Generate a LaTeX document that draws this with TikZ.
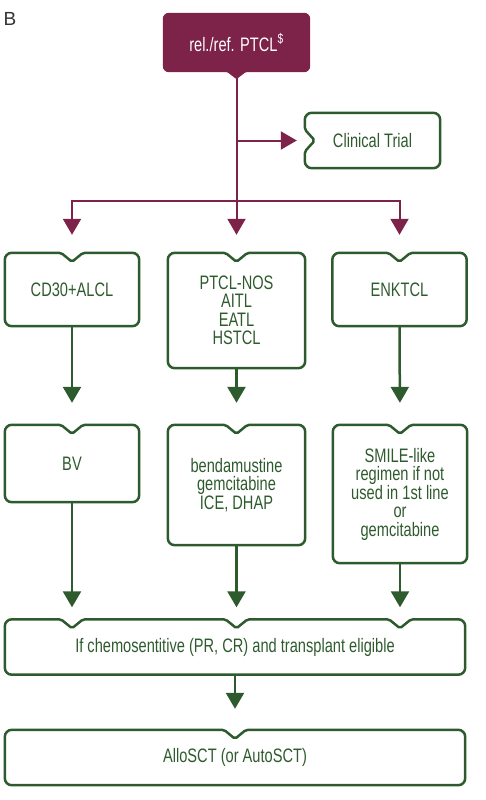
\documentclass[tikz,border=0pt]{standalone}
\usepackage{fontspec}
\setmainfont{Liberation Sans}[FakeStretch=0.75]
\newfontfamily\panelfont{Liberation Sans}
\usetikzlibrary{arrows.meta,backgrounds}
\definecolor{wine}{HTML}{7D2248}
\definecolor{leaf}{HTML}{2E5B2E}
\newcommand{\notchbox}[2]{%
  \draw[gline] (#1.west) [rounded corners=7] -- (#1.north west)
    \foreach \q in {#2} {[rounded corners=2] -- ([xshift=-11]\q) -- ([yshift=-9]\q) -- ([xshift=11]\q)}
    [rounded corners=7] -- (#1.north east) -- (#1.south east) -- (#1.south west) -- cycle;}

\begin{document}
\begin{tikzpicture}[x=1pt, y=-1pt,
  box/.style={inner sep=0pt, align=center, text=leaf, font=\fontsize{19.5}{18.5}\selectfont},
  gline/.style={draw=leaf, line width=2.5pt},
  garrow/.style={leaf, line width=2.5pt, -{Triangle[width=18pt,length=16pt]}},
  mline/.style={wine, line width=2pt},
  marrow/.style={wine, line width=2pt, -{Triangle[width=18pt,length=16pt]}}]
	\useasboundingbox (0,0) rectangle (485,800);
	\node (panel) at (10,19) {\panelfont\fontsize{19}{19}\selectfont\color{black!80}B};
	\node[box, text=white, minimum width=147, minimum height=59] (rel) at (236.5,42.5) {rel./ref. PTCL\textsuperscript{\$}};
	\node[box, minimum width=135, minimum height=55] (ct) at (372.5,140.5) {Clinical Trial};
	\node[box, minimum width=134, minimum height=73] (cd30) at (72,289.5) {CD30+ALCL};
	\node[box, minimum width=137, minimum height=115] (ptcl) at (236.5,310.5) {PTCL-NOS\\AITL\\EATL\\HSTCL};
	\node[box, minimum width=134, minimum height=73] (enk) at (399.5,289.5) {ENKTCL};
	\node[box, minimum width=134, minimum height=77] (bv) at (72,463.5) {BV};
	\node[box, minimum width=137, minimum height=120] (bend) at (236.5,485) {bendamustine\\gemcitabine\\ICE, DHAP};
	\node[box, minimum width=134, minimum height=138] (smile) at (400,494) {SMILE-like\\regimen if not\\used in 1st line\\or\\gemcitabine};
	\node[box, minimum width=460, minimum height=55] (chemo) at (235,647) {If chemosentitive (PR, CR) and transplant eligible};
	\node[box, minimum width=460, minimum height=55] (allo) at (235,757.5) {AlloSCT (or AutoSCT)};
	\coordinate (jmid) at (236.5,200.5);
	\coordinate (jct) at (rel.south |- ct.west);
	\coordinate (c1) at (bv.south |- chemo.north);
	\coordinate (c2) at (bend.south |- chemo.north);
	\coordinate (c3) at (smile.south |- chemo.north);
	\begin{scope}[on background layer]
		\fill[wine, rounded corners=6] (rel.west) -- (rel.north west) -- (rel.north east) -- (rel.south east)
			[rounded corners=1] -- ([xshift=9]rel.south) -- ([yshift=-7]rel.south) -- ([xshift=-9]rel.south)
			[rounded corners=6] -- (rel.south west) -- cycle;
		\draw[gline, rounded corners=7] (ct.north) -- (ct.north east) -- (ct.south east) -- (ct.south west)
			[rounded corners=2] -- ([yshift=-11]ct.west) -- ([xshift=10]ct.west) -- ([yshift=11]ct.west)
			[rounded corners=7] -- (ct.north west) -- cycle;
		\notchbox{cd30}{cd30.north}
		\notchbox{ptcl}{ptcl.north}
		\notchbox{enk}{enk.north}
		\notchbox{bv}{bv.north}
		\notchbox{bend}{bend.north}
		\notchbox{smile}{smile.north}
		\notchbox{chemo}{c1,c2,c3}
		\notchbox{allo}{allo.north}
	\end{scope}
	\draw[mline] (rel.south) -- (jmid);
	\draw[marrow, shorten >=8] (jct) -- (ct.west);
	\draw[marrow, shorten >=18] (jmid) -| (cd30.north);
	\draw[marrow, shorten >=18] (jmid) -- (ptcl.north);
	\draw[marrow, shorten >=18] (jmid) -| (enk.north);
	\draw[garrow, shorten >=22] (cd30) -- (bv);
	\draw[garrow, shorten >=22] (ptcl) -- (bend);
	\draw[garrow, shorten >=22] (enk.south) -- (smile.north);
	\draw[garrow, shorten >=12] (bv.south) -- (c1);
	\draw[garrow, shorten >=12] (bend.south) -- (c2);
	\draw[garrow, shorten >=12] (smile.south) -- (c3);
	\draw[garrow, shorten >=21] (chemo) -- (allo);
\end{tikzpicture}
\end{document}
